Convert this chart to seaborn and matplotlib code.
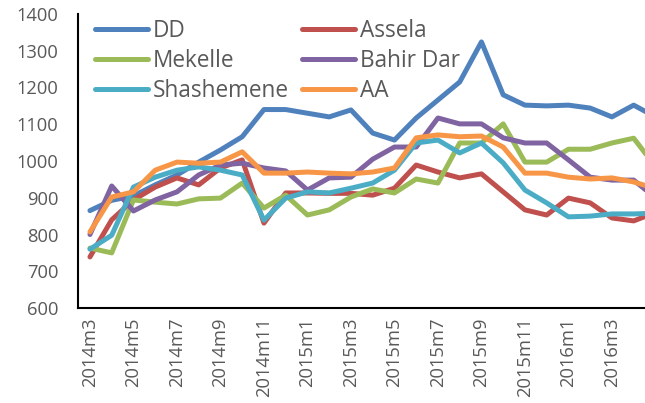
import pandas as pd
import seaborn as sns
import matplotlib.pyplot as plt

# Monthly series 2014m3 .. 2016m5 (last point partly off the chart edge)
months = ["2014m3", "2014m4", "2014m5", "2014m6", "2014m7", "2014m8", "2014m9",
          "2014m10", "2014m11", "2014m12", "2015m1", "2015m2", "2015m3", "2015m4",
          "2015m5", "2015m6", "2015m7", "2015m8", "2015m9", "2015m10", "2015m11",
          "2015m12", "2016m1", "2016m2", "2016m3", "2016m4", "2016m5"]

dd = [865, 893, 905, 935, 962, 997, 1030, 1066, 1140, 1140, 1130, 1120, 1139, 1076,
      1057, 1117, 1166, 1215, 1324, 1180, 1152, 1150, 1152, 1144, 1120, 1152, 1120]
assela = [739, 840, 894, 929, 954, 935, 981, 1003, 831, 913, 913, 912, 912, 907,
          926, 989, 970, 954, 965, 916, 867, 853, 899, 886, 845, 837, 860]
mekelle = [763, 750, 894, 888, 883, 897, 899, 940, 872, 907, 853, 867, 902, 924,
           913, 951, 940, 1049, 1049, 1101, 997, 997, 1032, 1032, 1049, 1062, 985]
bahir_dar = [800, 932, 864, 894, 916, 962, 989, 994, 981, 973, 921, 954, 956, 1005,
             1038, 1038, 1117, 1101, 1101, 1063, 1049, 1049, 1003, 956, 948, 948, 900]
shashemene = [760, 798, 929, 956, 975, 984, 975, 962, 839, 899, 916, 913, 926, 940,
              975, 1049, 1057, 1022, 1049, 995, 921, 886, 848, 850, 856, 856, 858]
aa = [807, 902, 916, 975, 997, 994, 997, 1025, 967, 967, 970, 967, 965, 970,
      981, 1063, 1071, 1066, 1068, 1038, 967, 967, 956, 951, 954, 943, 925]

cities = ["DD", "Assela", "Mekelle", "Bahir Dar", "Shashemene", "AA"]
colors = ["#4F81BD", "#C0504D", "#9BBB59", "#8064A2", "#4BACC6", "#F79646"]

rows = []
for city, vals in zip(cities, [dd, assela, mekelle, bahir_dar, shashemene, aa]):
    for i, v in enumerate(vals):
        rows.append({"t": i, "value": v, "city": city})
df = pd.DataFrame(rows)

sns.set_style("white")
plt.rcParams["font.family"] = ["Open Sans", "DejaVu Sans"]

fig = plt.figure(figsize=(6.45, 4.03), dpi=100)
ax = fig.add_axes([78 / 645, 1 - 308 / 403, 1 - 78 / 645, (308 - 14) / 403])

sns.lineplot(data=df, x="t", y="value", hue="city", hue_order=cities,
             palette=dict(zip(cities, colors)), linewidth=3.6, ax=ax,
             solid_capstyle="round", solid_joinstyle="round")

ax.set_xlim(-0.55, 25.52)
ax.set_ylim(600, 1400)
ax.set_yticks(range(600, 1401, 100))
ax.set_xticks(range(0, 25, 2))
ax.set_xticklabels(months[0:25:2], rotation=90)
ax.set_xlabel("")
ax.set_ylabel("")
ax.tick_params(axis="both", length=0, labelsize=13.2, labelcolor="#595959")
ax.tick_params(axis="x", pad=7)
ax.tick_params(axis="y", pad=14)

for side in ["top", "right"]:
    ax.spines[side].set_visible(False)
for side in ["left", "bottom"]:
    ax.spines[side].set_color("black")
    ax.spines[side].set_linewidth(1.5)

# legend filled row-wise like the original (matplotlib fills by column)
handles, labels = ax.get_legend_handles_labels()
order = [0, 2, 4, 1, 3, 5]
leg = ax.legend([handles[i] for i in order], [labels[i] for i in order],
                ncol=2, frameon=False, fontsize=16.3, loc="upper left",
                bbox_to_anchor=(95 / 645, 1 - 19 / 403),
                bbox_transform=fig.transFigure, borderpad=0, borderaxespad=0,
                handlelength=2.35, handletextpad=0.22, columnspacing=0.55,
                labelspacing=0.27)
for t in leg.get_texts():
    t.set_color("#595959")
for h in leg.get_lines():
    h.set_linewidth(3.6)
    h.set_solid_capstyle("round")

fig.savefig("out.png", dpi=100)
